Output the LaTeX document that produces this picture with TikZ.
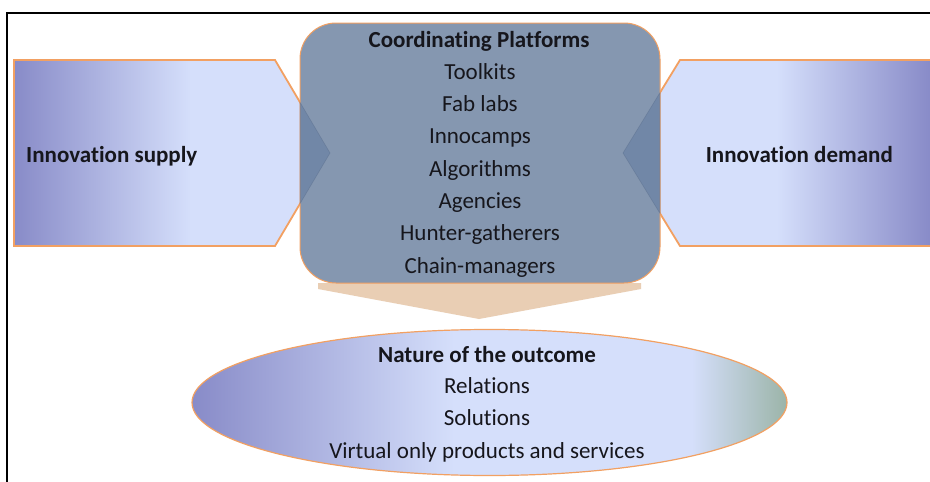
\documentclass[tikz,border=0pt]{standalone}
\usepackage{fontspec}
\setmainfont{Carlito}[Ligatures=NoCommon]
\usetikzlibrary{shapes.geometric}
\definecolor{darkperi}{RGB}{136,139,200}
\definecolor{lightperi}{RGB}{213,223,251}
\definecolor{greyish}{RGB}{155,180,168}
\definecolor{boxblue}{RGB}{133,151,176}
\definecolor{tipblue}{RGB}{100,125,162}
\definecolor{edgeorange}{RGB}{242,160,98}
\definecolor{beige}{RGB}{233,206,180}
\definecolor{txt}{RGB}{22,22,28}
\pgfdeclarehorizontalshading{supplyshade}{100bp}{color(0bp)=(darkperi); color(25bp)=(darkperi); color(53bp)=(lightperi); color(100bp)=(lightperi)}
\pgfdeclarehorizontalshading{demandshade}{100bp}{color(0bp)=(lightperi); color(50bp)=(lightperi); color(75bp)=(darkperi); color(100bp)=(darkperi)}
\pgfdeclarehorizontalshading{outcomeshade}{100bp}{color(0bp)=(darkperi); color(25bp)=(darkperi); color(47bp)=(lightperi); color(67bp)=(lightperi); color(75bp)=(greyish); color(100bp)=(greyish)}
\tikzset{
  pent/.style={draw=edgeorange, line width=1.8pt, line join=miter},
  lbl/.style={anchor=base, text=txt, font=\fontsize{23}{27}\selectfont, inner sep=0pt},
  bold/.style={lbl, font=\fontsize{23}{27}\selectfont\bfseries},
  tip/.style={fill=tipblue, fill opacity=0.6, draw=tipblue!80!black, draw opacity=0.35, line width=0.6pt}
}
\begin{document}
\begin{tikzpicture}[x=1pt,y=-1pt]
\useasboundingbox (0,0) rectangle (930,482);
\fill[white] (0,0) rectangle (930,482);
% frame
\draw[line width=2.5pt] (7,482) -- (7,13) -- (930,13);
% side arrows
\draw[pent, shading=supplyshade] (14,60) -- (275,60) -- (330,153) -- (275,246) -- (14,246) -- cycle;
\shade[shading=demandshade] (930,60) -- (680,60) -- (623,153) -- (680,246) -- (930,246) -- cycle;
\draw[pent] (931,60) -- (680,60) -- (623,153) -- (680,246) -- (931,246);
% down arrow
\fill[beige] (318,283) -- (641,283) -- (641,289) -- (479,319) -- (318,289) -- cycle;
% central box
\node[name=platforms, draw=edgeorange, line width=1pt, fill=boxblue, rounded corners=36pt,
      minimum width=360pt, minimum height=260pt, inner sep=0pt, outer sep=0pt] at (480,153) {};
\path[tip] (300,102.3) -- (330,153) -- (300,203.7) -- cycle;
\path[tip] (660,92.6) -- (623,153) -- (660,213.4) -- cycle;
% outcome ellipse
\node[name=outcome, ellipse, draw=edgeorange, line width=1.2pt, shading=outcomeshade,
      minimum width=595pt, minimum height=146pt, inner sep=0pt, outer sep=0pt] at (489.5,402.5) {};
% texts
\node[bold, anchor=base west, name=supply] at (26,162) {Innovation supply};
\node[bold, anchor=base east, name=demand] at (893,162) {Innovation demand};
\node[bold, name=ptitle] at (479,47) {Coordinating Platforms};
\node[lbl, name=p1] at (480,79.3) {Toolkits};
\node[lbl, name=p2] at (480,111.6) {Fab labs};
\node[lbl, name=p3] at (480,143.9) {Innocamps};
\node[lbl, name=p4] at (480,176.2) {Algorithms};
\node[lbl, name=p5] at (480,208.5) {Agencies};
\node[lbl, name=p6] at (480,240.8) {Hunter-gatherers};
\node[lbl, name=p7] at (480,273.1) {Chain-managers};
\node[bold, name=otitle] at (487,362) {Nature of the outcome};
\node[lbl, name=o1] at (487,393.5) {Relations};
\node[lbl, name=o2] at (487,425.5) {Solutions};
\node[lbl, name=o3] at (487,458) {Virtual only products and services};
\end{tikzpicture}
\end{document}
